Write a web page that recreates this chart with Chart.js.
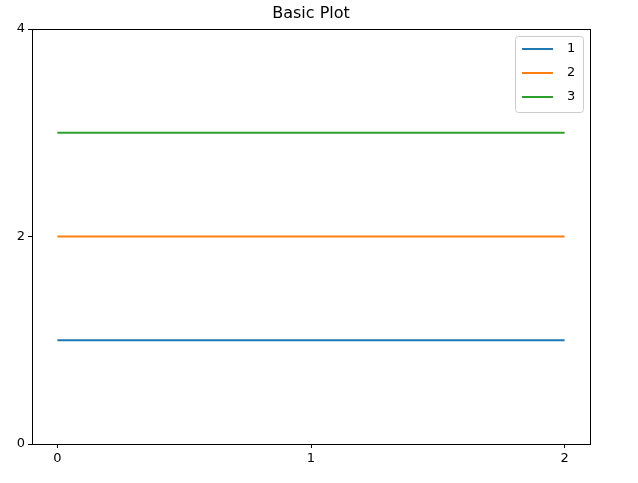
<!DOCTYPE html>
<html><head><meta charset="utf-8">
<script src="https://cdn.jsdelivr.net/npm/chart.js@4"></script>
<style>body{margin:0;background:#fff}</style>
</head><body>
<canvas id="c" width="638" height="483" style="width:638px;height:483px"></canvas>
<script>
var xs = [0, 1, 2];
var seriesNames = ['1', '2', '3'];
var series = [[1, 1, 1], [2, 2, 2], [3, 3, 3]];
var colors = ['#1f77b4', '#ff7f0e', '#2ca02c'];
var yTicks = [0, 2, 4];

var boxAndLegend = {
  id: 'boxAndLegend',
  afterDraw: function (chart) {
    var ctx = chart.ctx, a = chart.chartArea;
    ctx.save();
    ctx.strokeStyle = '#000'; ctx.lineWidth = 1;
    ctx.strokeRect(Math.round(a.left) + 0.5, Math.round(a.top) + 0.5, Math.round(a.right - a.left), Math.round(a.bottom - a.top));
    ctx.fillStyle = '#000'; ctx.font = '16px "DejaVu Sans"'; ctx.textAlign = 'center'; ctx.textBaseline = 'middle';
    ctx.fillText('Basic Plot', (a.left + a.right) / 2, 14);
    // legend
    var lx = 515, ly = 36, lw = 68, lh = 76;
    ctx.fillStyle = 'rgba(255,255,255,0.8)'; ctx.strokeStyle = '#ccc';
    ctx.beginPath(); ctx.roundRect(lx + 0.5, ly + 0.5, lw, lh, 3); ctx.fill(); ctx.stroke();
    ctx.font = '13px "DejaVu Sans"'; ctx.textAlign = 'left';
    chart.data.datasets.forEach(function (d, i) {
      var y = ly + 13 + i * 24;
      ctx.strokeStyle = d.borderColor; ctx.lineWidth = 2;
      ctx.beginPath(); ctx.moveTo(lx + 7, y); ctx.lineTo(lx + 38, y); ctx.stroke();
      ctx.fillStyle = '#000'; ctx.fillText(d.label, lx + 52, y);
    });
    ctx.restore();
  }
};

new Chart(document.getElementById('c'), {
  type: 'line',
  data: {
    datasets: series.map(function (s, i) {
      return {
        label: seriesNames[i],
        data: s.map(function (v, j) { return { x: xs[j], y: v }; }),
        borderColor: colors[i], borderWidth: 2, pointRadius: 0, fill: false
      };
    })
  },
  options: {
    responsive: false, animation: false,
    layout: { padding: { top: 29, right: 48, left: 0, bottom: 0 } },
    plugins: { legend: { display: false }, title: { display: false }, tooltip: { enabled: false } },
    scales: {
      x: {
        type: 'linear', min: -0.1, max: 2.1,
        afterBuildTicks: function (s) { s.ticks = xs.map(function (v) { return { value: v }; }); },
        afterFit: function (s) { s.height = 39; },
        grid: { drawOnChartArea: false, tickLength: 4, color: '#000' },
        border: { display: false },
        ticks: { color: '#000', font: { family: 'DejaVu Sans', size: 13 }, padding: 3 }
      },
      y: {
        min: 0, max: 4,
        afterBuildTicks: function (s) { s.ticks = yTicks.map(function (v) { return { value: v }; }); },
        afterFit: function (s) { s.width = 32; },
        grid: { drawOnChartArea: false, tickLength: 4, color: '#000' },
        border: { display: false },
        ticks: { color: '#000', font: { family: 'DejaVu Sans', size: 13 }, padding: 3 }
      }
    }
  },
  plugins: [boxAndLegend]
});
</script>
</body></html>
